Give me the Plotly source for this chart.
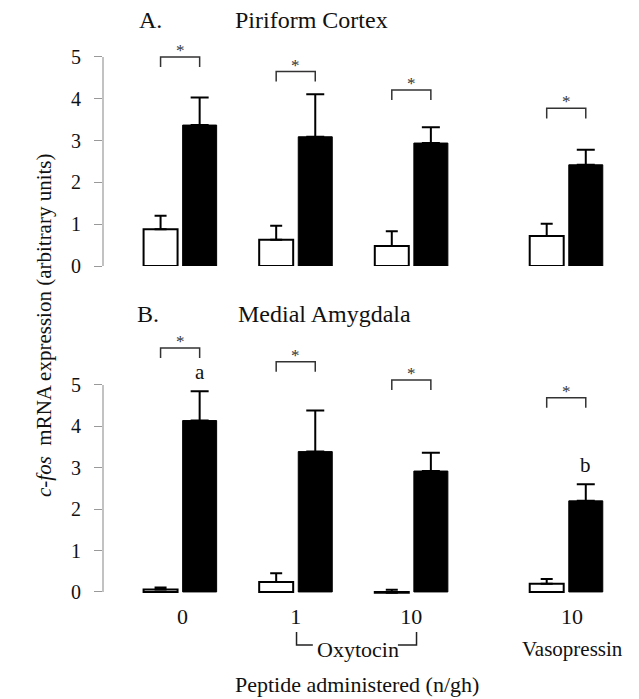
import plotly.graph_objects as go

# ---- data ----
doses = ["0", "1", "10", "10"]
white_A = [0.88, 0.63, 0.48, 0.72]
white_A_err = [0.32, 0.33, 0.35, 0.29]
black_A = [3.37, 3.09, 2.94, 2.42]
black_A_err = [0.66, 1.02, 0.38, 0.36]
sig_A = [5.0, 4.65, 4.21, 3.77]

white_B = [0.06, 0.24, -0.02, 0.20]
white_B_err = [0.05, 0.21, 0.07, 0.11]
black_B = [4.14, 3.39, 2.92, 2.20]
black_B_err = [0.71, 0.99, 0.44, 0.40]
sig_B = [5.89, 5.56, 5.12, 4.69]
letters_B = ["a", "", "", "b"]

y_ticks = [0, 1, 2, 3, 4, 5]

# ---- layout helpers ----
pos = [0, 1, 2, 3.34]
label_pos = [0.02, 1.0, 2.0, 3.39]
off = 0.169
bw = 0.294
FONT = "Liberation Serif"
W, H = 639, 699
PAGE_OFF = 8  # default body margin of the html page

def px(x):
    return (x - PAGE_OFF) / W

def py(y):
    return 1 - (y - PAGE_OFF) / H

fig = go.Figure()

def add_panel(white, werr, black, berr, xa, ya):
    xw = [p - off for p in pos]
    xb = [p + off for p in pos]
    fig.add_trace(go.Bar(
        x=xw, y=white, width=bw, marker=dict(color="white", line=dict(color="black", width=2)),
        error_y=dict(type="data", symmetric=False, array=werr, arrayminus=[0] * len(werr),
                     color="black", thickness=2, width=6),
        xaxis=xa, yaxis=ya, showlegend=False))
    fig.add_trace(go.Bar(
        x=xb, y=black, width=bw, marker=dict(color="black", line=dict(color="black", width=1)),
        error_y=dict(type="data", symmetric=False, array=berr, arrayminus=[0] * len(berr),
                     color="black", thickness=2, width=9),
        xaxis=xa, yaxis=ya, showlegend=False))

add_panel(white_A, white_A_err, black_A, black_A_err, "x", "y")
add_panel(white_B, white_B_err, black_B, black_B_err, "x2", "y2")

shapes = []
annotations = []
leg = 0.24

def brackets(sig, xr, yr):
    for p, h in zip(pos, sig):
        x0, x1 = p - off, p + off
        shapes.append(dict(type="path", xref=xr, yref=yr,
                           path=f"M {x0},{h-leg} L {x0},{h} L {x1},{h} L {x1},{h-leg}",
                           line=dict(color="#333", width=1.5)))
        annotations.append(dict(x=p, y=h, xref=xr, yref=yr, text="*", showarrow=False,
                                yanchor="bottom", yshift=-5,
                                font=dict(family=FONT, size=17, color="#333")))

brackets(sig_A, "x", "y")
brackets(sig_B, "x2", "y2")

for p, v, e, t in zip(pos, black_B, black_B_err, letters_B):
    if t:
        annotations.append(dict(x=p + off, y=v + e + 0.12, xref="x2", yref="y2", text=t,
                                showarrow=False, yanchor="bottom",
                                font=dict(family=FONT, size=21, color="#111")))

# y-axis lines from 0 to 5 only
for ya in ["y", "y2"]:
    xr = "x domain" if ya == "y" else "x2 domain"
    shapes.append(dict(type="line", xref=xr, yref=ya, x0=0, x1=0, y0=0, y1=5,
                       line=dict(color="#999", width=1.2)))

# Oxytocin bracket
shapes.append(dict(type="path", xref="x2", yref="paper",
                   path=f"M 1.007,{py(632)} L 1.007,{py(645)} L 1.148,{py(645)}",
                   line=dict(color="#222", width=1.5)))
shapes.append(dict(type="path", xref="x2", yref="paper",
                   path=f"M 1.884,{py(645)} L 2.045,{py(645)} L 2.045,{py(632)}",
                   line=dict(color="#222", width=1.5)))

tfont = dict(family=FONT, size=21, color="#111")
hfont = dict(family=FONT, size=24, color="#111")
mid = dict(xref="paper", yref="paper", showarrow=False, yanchor="middle")
annotations += [
    dict(x=px(137), y=py(20), text="A.", font=hfont, **mid),
    dict(x=px(233), y=py(20), text="Piriform Cortex", xanchor="left", font=hfont, **mid),
    dict(x=px(135), y=py(314), text="B.", font=hfont, **mid),
    dict(x=px(236), y=py(314), text="Medial Amygdala", xanchor="left", font=hfont, **mid),
    dict(x=px(357), y=py(684), text="Peptide administered (n/gh)", font=dict(family=FONT, size=22, color="#111"), **mid),
    dict(x=px(30), y=py(325), text="<i>c-fos</i>  mRNA expression (arbitrary units)",
         textangle=-90, font=tfont, **mid),
    dict(x=1.54, y=py(649), xref="x2", yref="paper", yanchor="middle", text="Oxytocin",
         showarrow=False, font=dict(family=FONT, size=22, color="#111")),
    dict(x=label_pos[3], y=py(649), xref="x2", yref="paper", yanchor="middle", text="Vasopressin",
         showarrow=False, font=tfont),
]

xrange = [-0.667, 3.805]
yax = dict(range=[0, 5.5], tickvals=y_ticks, showline=False, showgrid=False, zeroline=False,
           ticks="outside", ticklen=8, tickcolor="#999", tickwidth=1.2, automargin=False,
           tickfont=dict(family=FONT, size=20, color="#111"), ticklabelstandoff=9)

fig.update_layout(
    width=W, height=H, margin=dict(l=0, r=0, t=0, b=0, autoexpand=False),
    paper_bgcolor="white", plot_bgcolor="white",
    font=dict(family=FONT, color="#111"),
    barmode="overlay", showlegend=False,
    xaxis=dict(domain=[px(103), px(620)], range=xrange, visible=False, anchor="y", automargin=False),
    yaxis=dict(domain=[py(266), py(36)], anchor="x", **yax),
    xaxis2=dict(domain=[px(103), px(620)], range=xrange, anchor="y2", showline=False, showgrid=False,
                zeroline=False, tickvals=label_pos, ticktext=doses, ticks="", automargin=False,
                tickfont=dict(family=FONT, size=22, color="#111"), ticklabelstandoff=7),
    yaxis2=dict(domain=[py(594), py(327)], anchor="x2", **{**yax, "range": [-0.05, 6.4]}),
    shapes=shapes, annotations=annotations,
)

fig.write_html("out.html")
